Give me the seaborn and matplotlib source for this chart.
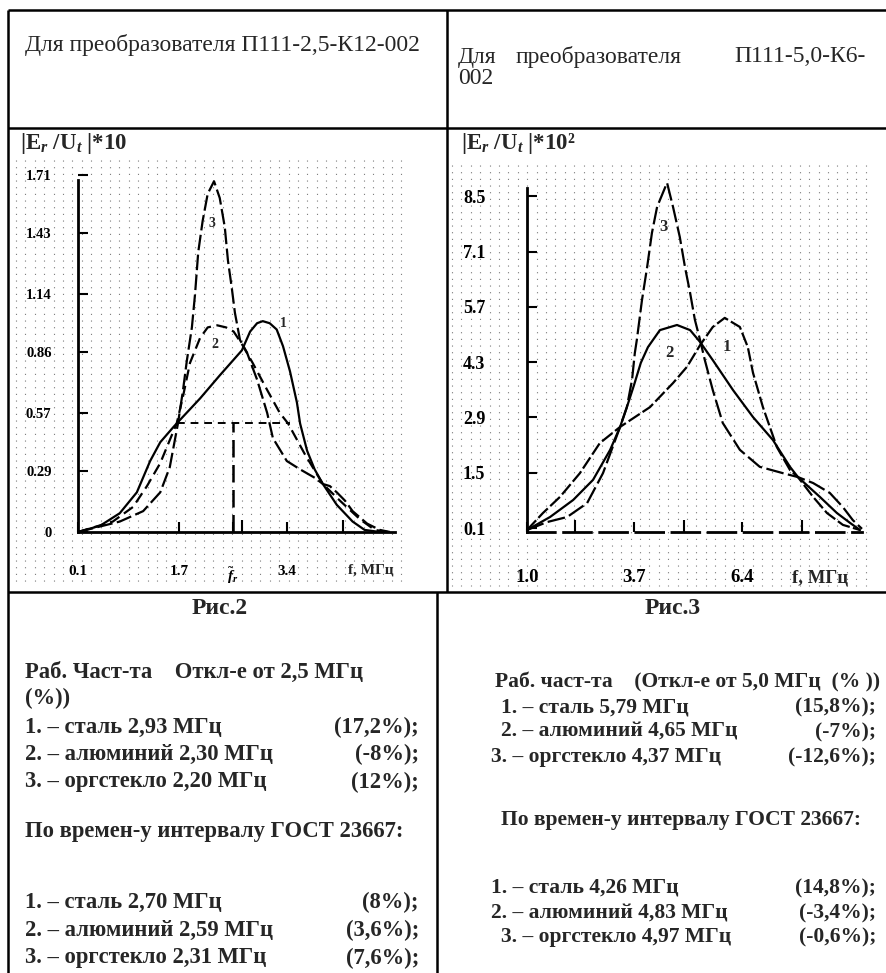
import matplotlib
matplotlib.use('Agg')
import matplotlib.pyplot as plt
import seaborn as sns
import numpy as np

# ---------------------------------------------
# Рис.2 : П111-2,5-К12-002, |Er/Ut|*10, f (МГц)
# ---------------------------------------------
fig2_f1 = [0.10, 0.45, 0.76, 1.03, 1.24, 1.40, 1.60, 1.66, 2.03, 2.34, 2.69, 2.82, 2.93, 3.02,
           3.13, 3.24, 3.34, 3.45, 3.56, 3.61, 3.72, 3.84, 3.97, 4.19, 4.44, 4.63, 4.87]
fig2_e1 = [0.00, 0.03, 0.09, 0.19, 0.34, 0.43, 0.50, 0.52, 0.64, 0.75, 0.87, 0.96, 1.00, 1.01,
           1.00, 0.97, 0.89, 0.77, 0.62, 0.52, 0.39, 0.30, 0.23, 0.13, 0.05, 0.01, 0.00]
fig2_f2 = [0.10, 0.65, 0.97, 1.19, 1.40, 1.55, 1.66, 1.76, 1.87, 2.03, 2.15, 2.30, 2.44, 2.56,
           2.69, 2.86, 3.09, 3.29, 3.42, 3.69, 3.97, 4.24, 4.56, 4.79, 5.00]
fig2_e2 = [0.00, 0.05, 0.12, 0.22, 0.33, 0.44, 0.52, 0.65, 0.81, 0.93, 0.98, 0.99, 0.98, 0.96,
           0.90, 0.81, 0.68, 0.57, 0.52, 0.37, 0.23, 0.15, 0.06, 0.01, 0.00]
fig2_f3 = [0.10, 0.76, 1.13, 1.40, 1.55, 1.68, 1.76, 1.82, 1.90, 1.95, 2.00, 2.07, 2.15, 2.25,
           2.34, 2.42, 2.47, 2.53, 2.58, 2.66, 2.77, 2.93, 3.09, 3.18, 3.40, 3.61, 3.84, 3.97,
           4.08, 4.19, 4.32, 4.44, 4.67, 4.87, 5.03]
fig2_e3 = [0.00, 0.05, 0.10, 0.19, 0.31, 0.52, 0.68, 0.82, 0.98, 1.14, 1.34, 1.49, 1.62, 1.68,
           1.60, 1.46, 1.30, 1.17, 1.05, 0.92, 0.86, 0.73, 0.57, 0.45, 0.34, 0.30, 0.26, 0.23,
           0.22, 0.19, 0.15, 0.10, 0.04, 0.01, 0.00]
fig2_level = 0.52          # уровень пунктира
fig2_band = [1.66, 3.45]   # границы полосы
fig2_fr = 2.55             # центральная частота
fig2_yticks = [0, 0.29, 0.57, 0.86, 1.14, 1.43, 1.71]
fig2_xticks = [0.1, 1.7, 3.4]
fig2_xminor = [2.69, 4.29]

# ---------------------------------------------
# Рис.3 : П111-5,0-К6-002, |Er/Ut|*10^2
# ---------------------------------------------
fig3_f1 = [1.00, 1.40, 1.83, 2.33, 2.83, 3.34, 4.09, 4.67, 5.02, 5.35, 5.67, 5.97, 6.35, 6.55,
           6.68, 6.93, 7.28, 7.61, 7.81, 8.19, 8.54, 8.94, 9.37]
fig3_e1 = [0.05, 0.48, 0.89, 1.49, 2.25, 2.66, 3.16, 3.77, 4.18, 4.73, 5.19, 5.42, 5.19, 4.68,
           4.03, 3.16, 2.15, 1.57, 1.39, 0.89, 0.48, 0.18, 0.05]
fig3_f2 = [1.00, 1.58, 2.16, 2.66, 3.09, 3.34, 3.51, 3.69, 3.86, 4.04, 4.34, 4.77, 5.10, 5.35,
           5.67, 6.18, 6.68, 7.18, 7.61, 7.81, 8.36, 8.79, 9.12, 9.37]
fig3_e2 = [0.05, 0.38, 0.81, 1.32, 2.08, 2.66, 3.16, 3.72, 4.28, 4.68, 5.11, 5.24, 5.11, 4.81,
           4.35, 3.59, 2.91, 2.33, 1.65, 1.39, 0.89, 0.48, 0.23, 0.05]
fig3_f3 = [1.00, 1.50, 2.01, 2.51, 2.91, 3.34, 3.51, 3.64, 3.71, 3.76, 3.89, 4.02, 4.14, 4.27,
           4.52, 4.67, 4.84, 4.97, 5.10, 5.22, 5.35, 5.47, 5.67, 5.92, 6.35, 6.85, 7.43, 7.81,
           8.19, 8.61, 8.94, 9.19, 9.42]
fig3_e3 = [0.05, 0.25, 0.38, 0.73, 1.49, 2.66, 3.16, 3.85, 4.53, 4.86, 5.87, 6.71, 7.57, 8.23,
           8.84, 8.23, 7.47, 6.71, 6.05, 5.37, 4.86, 4.35, 3.59, 2.76, 2.08, 1.65, 1.49, 1.39,
           1.24, 0.99, 0.63, 0.30, 0.08]
fig3_yticks = [0.1, 1.5, 2.9, 4.3, 5.7, 7.1, 8.5]
fig3_xticks = [1.0, 3.7, 6.4]
fig3_xminor = [2.2, 4.95, 7.9]

# ---------------------------------------------
# Подписи под рисунками
# ---------------------------------------------
materials = ['сталь', 'алюминий', 'оргстекло']
fig2_work_f = ['2,93', '2,30', '2,20']
fig2_work_dev = ['(17,2%);', '(-8%);', '(12%);']
fig2_gost_f = ['2,70', '2,59', '2,31']
fig2_gost_dev = ['(8%);', '(3,6%);', '(7,6%);']
fig3_work_f = ['5,79', '4,65', '4,37']
fig3_work_dev = ['(15,8%);', '(-7%);', '(-12,6%);']
fig3_gost_f = ['4,26', '4,83', '4,97']
fig3_gost_dev = ['(14,8%);', '(-3,4%);', '(-0,6%);']

# ---------------------------------------------
# Style
# ---------------------------------------------
sns.set_theme(style='white')
plt.rcParams['font.family'] = ['Liberation Serif', 'DejaVu Serif']
plt.rcParams['mathtext.fontset'] = 'custom'
plt.rcParams['mathtext.rm'] = 'Liberation Serif:bold'
plt.rcParams['mathtext.it'] = 'Liberation Serif:bold:italic'
plt.rcParams['mathtext.bf'] = 'Liberation Serif:bold'

W, H = 886, 973
fig = plt.figure(figsize=(W / 100, H / 100), dpi=100)
fig.patch.set_facecolor('white')

# fond en pixels (tableau, grille pointillée, textes)
frame = fig.add_axes([0, 0, 1, 1])
frame.set_xlim(0, W)
frame.set_ylim(H, 0)
frame.axis('off')


def dot_grid(x0, x1, y0, y1, step=9.4):
    xs = np.arange(x0, x1, step)
    frame.vlines(xs, y0, y1, colors='0.3', linewidth=0.8,
                 linestyles=[(0, (1.0, 5.0))], alpha=0.75)


dot_grid(16, 405, 160, 586)
dot_grid(452, 872, 165, 586)

# lignes du tableau
kw = dict(color='black', linewidth=1.8, solid_capstyle='butt')
frame.plot([8, W], [10, 10], **kw)
frame.plot([8, 8], [10, H], **kw)
frame.plot([8, W], [128, 128], **kw)
frame.plot([8, W], [592, 592], **kw)
frame.plot([447, 447], [10, 592], **kw)
frame.plot([437, 437], [592, H], **kw)

# en-têtes
frame.text(25, 45, 'Для преобразователя П111-2,5-К12-002', fontsize=17,
           va='center', ha='left')
hdr = ['Для', 'преобразователя', 'П111-5,0-К6-']
for word, xw in zip(hdr, [458, 516, 734]):
    frame.text(xw, 57, word, fontsize=17, va='center', ha='left')
frame.text(458, 79, '002', fontsize=17, va='center', ha='left')


def px_axes(x0, y0, x1, y1):
    a = fig.add_axes([x0 / W, 1 - y1 / H, (x1 - x0) / W, (y1 - y0) / H])
    a.set_facecolor('none')
    return a


def style_axes(ax, ytop, ypad, xpad, ysize, xsize):
    for s in ['top', 'right']:
        ax.spines[s].set_visible(False)
    for s in ['left', 'bottom']:
        ax.spines[s].set_linewidth(2.0)
        ax.spines[s].set_color('black')
    ax.spines['left'].set_bounds(ax.get_ylim()[0], ytop)
    ax.tick_params(axis='both', which='both', direction='in', left=True, bottom=True,
                   color='black', width=1.5, labelcolor='black')
    ax.tick_params(axis='both', which='major', length=7)
    ax.tick_params(axis='x', which='minor', length=9)
    ax.tick_params(axis='y', pad=ypad, labelsize=ysize)
    ax.tick_params(axis='x', pad=xpad, labelsize=xsize)
    for lbl in ax.get_xticklabels() + ax.get_yticklabels():
        lbl.set_fontweight('bold')
    ax.set_xlabel('')
    ax.set_ylabel('')
    ax.grid(False)


def curve(ax, f, e, ls):
    sns.lineplot(x=f, y=e, ax=ax, color='black', linewidth=1.6, linestyle=ls,
                 sort=False, estimator=None, clip_on=False)


# ---------------- Рис.2 ----------------
ax2 = px_axes(78, 175, 395, 532)
curve(ax2, fig2_f1, fig2_e1, '-')
curve(ax2, fig2_f2, fig2_e2, (0, (5, 2.5)))
curve(ax2, fig2_f3, fig2_e3, (0, (7, 2)))
ax2.plot(fig2_band, [fig2_level, fig2_level], color='black', lw=1.4, ls=(0, (4, 3)))
ax2.plot([fig2_fr, fig2_fr], [0, fig2_level], color='black', lw=1.8, ls=(0, (7, 3)))
ax2.set_xlim(0.1, 5.11)
ax2.set_ylim(0, 1.708)
ax2.set_yticks(fig2_yticks)
ax2.set_yticklabels(['0' if v == 0 else f'{v:.2f}' for v in fig2_yticks])
ax2.set_xticks(fig2_xticks + [fig2_fr])
ax2.set_xticklabels([f'{v:.1f}' for v in fig2_xticks] + [r'$\tilde{f}_r$'])
ax2.set_xticks(fig2_xminor, minor=True)
style_axes(ax2, 1.684, 19, 24, 10.5, 11)
for t, fx_, ey_ in [('3', 2.22, 1.48), ('2', 2.26, 0.90), ('1', 3.34, 1.00)]:
    ax2.text(fx_, ey_, t, fontsize=10, fontweight='bold', ha='center', va='center')
frame.text(20, 143, r'$|$E$_{r}$ /U$_{t}$ $|$*10', fontsize=16.5, fontweight='bold',
           va='center', ha='left')
frame.text(348, 570, 'f, МГц', fontsize=11, fontweight='bold', va='center', ha='left')

# ---------------- Рис.3 ----------------
ax3 = px_axes(527, 180, 862, 532)
curve(ax3, fig3_f1, fig3_e1, (0, (6, 1.5)))
curve(ax3, fig3_f2, fig3_e2, '-')
curve(ax3, fig3_f3, fig3_e3, (0, (8, 2)))
ax3.set_xlim(1.0, 9.42)
ax3.set_ylim(0, 8.91)
ax3.set_yticks(fig3_yticks)
ax3.set_yticklabels([f'{v:.1f}' for v in fig3_yticks])
ax3.set_xticks(fig3_xticks)
ax3.set_xticklabels([f'{v:.1f}' for v in fig3_xticks])
ax3.set_xticks(fig3_xminor, minor=True)
style_axes(ax3, 8.71, 30, 27, 13, 13.5)
ax3.spines['bottom'].set_linestyle((0, (10, 3)))
for t, fx_, ey_ in [('3', 4.42, 7.72), ('2', 4.59, 4.53), ('1', 6.03, 4.68)]:
    ax3.text(fx_, ey_, t, fontsize=12, fontweight='bold', ha='center', va='center')
frame.text(461, 143, r'$|$E$_{r}$ /U$_{t}$ $|$*10²', fontsize=16.5, fontweight='bold',
           va='center', ha='left')
frame.text(792, 578, 'f, МГц', fontsize=13.5, fontweight='bold', va='center', ha='left')

# ---------------- подписи ----------------
bkw = dict(fontweight='bold', va='center')
frame.text(220, 609, 'Рис.2', fontsize=17, ha='center', **bkw)
frame.text(673, 609, 'Рис.3', fontsize=17, ha='center', **bkw)

fs_l = 16.3
frame.text(25, 672, 'Раб. Част-та    Откл-е от 2,5 МГц', fontsize=fs_l, ha='left', **bkw)
frame.text(25, 698, '(%))', fontsize=fs_l, ha='left', **bkw)
for i, (m, f, d) in enumerate(zip(materials, fig2_work_f, fig2_work_dev)):
    y = [727, 754, 782][i]
    frame.text(25, y, f'{i + 1}. – {m} {f} МГц', fontsize=fs_l, ha='left', **bkw)
    frame.text(419, y, d, fontsize=fs_l, ha='right', **bkw)
frame.text(25, 832, 'По времен-у интервалу ГОСТ 23667:', fontsize=fs_l, ha='left', **bkw)
for i, (m, f, d) in enumerate(zip(materials, fig2_gost_f, fig2_gost_dev)):
    y = [902, 930, 958][i]
    frame.text(25, y, f'{i + 1}. – {m} {f} МГц', fontsize=fs_l, ha='left', **bkw)
    frame.text(419, y, d, fontsize=fs_l, ha='right', **bkw)

fs_r = 15.5
frame.text(495, 682, 'Раб. част-та    (Откл-е от 5,0 МГц  (% ))', fontsize=fs_r,
           ha='left', **bkw)
for i, (m, f, d) in enumerate(zip(materials, fig3_work_f, fig3_work_dev)):
    y = [707, 732, 757][i]
    x = [501, 501, 491][i]
    frame.text(x, y, f'{i + 1}. – {m} {f} МГц', fontsize=fs_r, ha='left', **bkw)
    frame.text(876, y, d, fontsize=fs_r, ha='right', **bkw)
frame.text(501, 820, 'По времен-у интервалу ГОСТ 23667:', fontsize=fs_r, ha='left', **bkw)
for i, (m, f, d) in enumerate(zip(materials, fig3_gost_f, fig3_gost_dev)):
    y = [888, 913, 937][i]
    x = [491, 491, 501][i]
    frame.text(x, y, f'{i + 1}. – {m} {f} МГц', fontsize=fs_r, ha='left', **bkw)
    frame.text(876, y, d, fontsize=fs_r, ha='right', **bkw)

fig.savefig('out.png', dpi=100, facecolor='white')
plt.close(fig)
